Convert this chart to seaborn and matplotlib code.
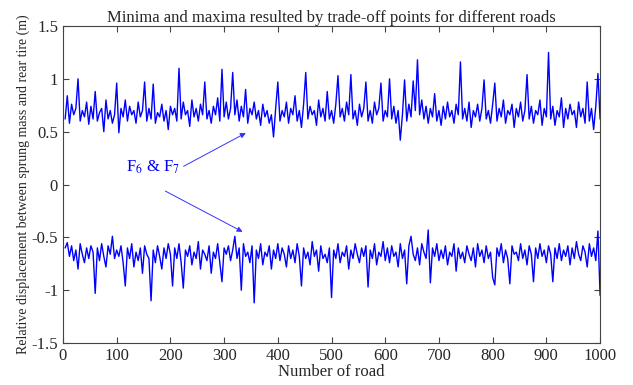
import numpy as np
import pandas as pd
import matplotlib
matplotlib.use("Agg")
import matplotlib.pyplot as plt
import seaborn as sns

# values (hundredths of a metre), every 4th road
upper = [62, 84, 58, 76, 66, 72, 100, 60, 70, 64, 78, 57, 74, 62, 88, 60, 68, 72, 50, 80, 62, 70, 58, 66, 96,
         49, 72, 64, 80, 60, 74, 66, 70, 58, 78, 64, 70, 97, 60, 72, 62, 95, 58, 68, 64, 76, 60, 70, 52, 74,
         66, 72, 60, 110, 62, 78, 66, 70, 55, 80, 64, 72, 60, 76, 66, 97, 62, 70, 58, 74, 66, 82, 60, 109, 64,
         78, 62, 72, 106, 66, 80, 60, 74, 64, 90, 58, 72, 66, 78, 62, 70, 56, 76, 64, 70, 58, 66, 45, 72, 97,
         60, 70, 64, 78, 58, 72, 66, 84, 60, 70, 54, 76, 106, 62, 74, 66, 70, 56, 80, 64, 72, 60, 88, 62, 70,
         58, 76, 103, 64, 72, 60, 78, 66, 104, 62, 70, 56, 76, 64, 72, 97, 60, 70, 58, 78, 66, 72, 96, 60, 70,
         64, 100, 62, 74, 58, 70, 42, 66, 99, 60, 76, 64, 98, 70, 118, 66, 80, 62, 74, 58, 72, 64, 86, 60, 70,
         56, 74, 62, 78, 64, 70, 58, 76, 66, 116, 62, 72, 60, 78, 54, 70, 64, 76, 60, 72, 99, 62, 70, 58, 76,
         96, 60, 72, 64, 80, 58, 70, 66, 76, 54, 72, 64, 78, 60, 70, 104, 62, 74, 58, 70, 66, 80, 56, 72, 64,
         125, 62, 74, 56, 70, 64, 82, 54, 72, 62, 76, 66, 70, 54, 78, 64, 72, 58, 97, 60, 72, 52, 74, 105, 62]
lower = [-60, -55, -68, -58, -72, -62, -80, -56, -66, -74, -60, -70, -58, -64, -103, -60, -72, -56, -68, -78, -58, -66, -49, -70, -62,
         -68, -58, -74, -96, -60, -70, -56, -78, -64, -72, -60, -84, -58, -66, -70, -110, -62, -74, -58, -68, -80, -60, -70, -56, -66,
         -96, -60, -70, -56, -74, -98, -62, -68, -58, -76, -64, -70, -54, -80, -62, -66, -72, -58, -84, -64, -70, -56, -74, -92, -60,
         -66, -58, -72, -62, -49, -70, -60, -100, -56, -68, -64, -74, -58, -112, -62, -70, -56, -76, -64, -68, -58, -80, -62, -70, -56,
         -72, -60, -66, -78, -58, -70, -62, -74, -56, -68, -96, -60, -70, -64, -76, -54, -68, -62, -82, -58, -70, -66, -74, -60, -107,
         -62, -70, -56, -74, -64, -68, -58, -80, -62, -70, -56, -66, -74, -60, -68, -58, -97, -62, -70, -56, -76, -64, -68, -54, -72,
         -60, -74, -58, -68, -64, -78, -56, -70, -62, -94, -58, -49, -66, -72, -60, -76, -56, -64, -70, -43, -93, -60, -68, -56, -72,
         -62, -70, -58, -76, -64, -68, -56, -82, -60, -70, -64, -74, -58, -66, -72, -60, -78, -56, -68, -62, -74, -58, -70, -64, -88,
         -95, -60, -68, -56, -74, -62, -70, -94, -58, -66, -64, -72, -56, -70, -62, -76, -58, -66, -92, -60, -70, -56, -68, -62, -74,
         -58, -66, -92, -60, -70, -56, -72, -62, -68, -58, -76, -60, -70, -54, -66, -72, -58, -64, -78, -56, -68, -60, -72, -44, -105]
roads = np.arange(4, 1001, 4)

x_ticks = list(range(0, 1001, 100))
y_ticks = [-1.5, -1, -0.5, 0, 0.5, 1, 1.5]
y_labels = ["-1.5", "-1", "-0.5", "0", "0.5", "1", "1.5"]

df = pd.DataFrame({"road": np.concatenate([roads, roads]),
                   "disp": np.array(upper + lower) / 100.0,
                   "kind": ["max"] * len(upper) + ["min"] * len(lower)})

sns.set_style("ticks")
plt.rcParams["font.family"] = ["Liberation Serif", "DejaVu Serif"]
plt.rcParams["mathtext.fontset"] = "stix"

fig = plt.figure(figsize=(6.33, 3.85), dpi=100)
ax = fig.add_axes([0.0995, 0.109, 0.8485, 0.8235])

for k in ["max", "min"]:
    sns.lineplot(data=df[df["kind"] == k], x="road", y="disp", color="#0000ff",
                 linewidth=1.0, ax=ax, legend=False)

ax.set_xlim(0, 1000)
ax.set_ylim(-1.5, 1.5)
ax.set_xticks(x_ticks)
ax.set_yticks(y_ticks)
ax.set_yticklabels(y_labels)
ax.tick_params(direction="in", top=True, right=True, labelsize=12, length=4, color="#444444")
for s in ax.spines.values():
    s.set_color("#444444")
    s.set_linewidth(0.8)

ax.set_title("Minima and maxima resulted by trade-off points for different roads", fontsize=12, pad=3)
ax.set_xlabel("Number of road", fontsize=12, labelpad=0)
ax.set_ylabel("Relative displacement between sprung mass and rear tire (m)", fontsize=10, labelpad=1)

ax.text(168, 0.16, r"F$_6$ & F$_7$", color="#0000ff", fontsize=12, ha="center", va="center")
ax.annotate("", xy=(345, 0.50), xytext=(220, 0.16),
            arrowprops=dict(arrowstyle="-|>", color="#3333ff", lw=0.7, mutation_scale=8))
ax.annotate("", xy=(339, -0.46), xytext=(186, -0.05),
            arrowprops=dict(arrowstyle="-|>", color="#3333ff", lw=0.7, mutation_scale=8))

fig.savefig("out.png", dpi=100)
